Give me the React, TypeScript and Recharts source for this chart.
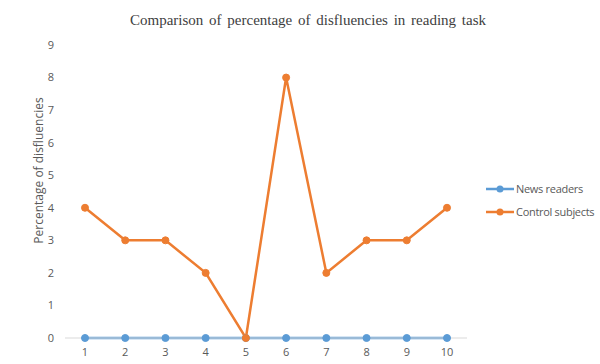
import { Label, Legend, Line, LineChart, XAxis, YAxis } from "recharts";

const subjects = ["1", "2", "3", "4", "5", "6", "7", "8", "9", "10"];
const newsReaders = [0, 0, 0, 0, 0, 0, 0, 0, 0, 0];
const controlSubjects = [4, 3, 3, 2, 0, 8, 2, 3, 3, 4];
const yTicks = [0, 1, 2, 3, 4, 5, 6, 7, 8, 9];
const seriesNames = ["News readers", "Control subjects"];

const data = subjects.map((s, i) => ({
  subject: s,
  news: newsReaders[i],
  control: controlSubjects[i],
}));

const gray = "#595959";

function LegendContent({ payload }: any) {
  const items = [...(payload || [])].sort(
    (a: any, b: any) => seriesNames.indexOf(a.value) - seriesNames.indexOf(b.value)
  );
  return (
    <div style={{ fontFamily: "Open Sans, sans-serif", fontSize: 11, color: gray }}>
      {items.map((p: any) => (
        <div key={p.value} style={{ display: "flex", alignItems: "center", height: 23 }}>
          <svg width={28} height={10} style={{ marginRight: 2 }}>
            <line x1={0} y1={5} x2={28} y2={5} stroke={p.color} strokeWidth={2.5} />
            <circle cx={14} cy={5} r={3.5} fill={p.color} />
          </svg>
          <span style={{ letterSpacing: -0.3 }}>{p.value}</span>
        </div>
      ))}
    </div>
  );
}

export default function App() {
  return (
    <div style={{ position: "absolute", left: 0, top: 0, width: 600, height: 364, background: "#fff" }}>
      <div
        style={{
          position: "absolute",
          top: 12,
          left: 108,
          width: 400,
          textAlign: "center",
          whiteSpace: "nowrap",
          fontFamily: "Liberation Serif, serif",
          fontSize: 15,
          color: "#404040",
          wordSpacing: 2,
        }}
      >
        Comparison of percentage of disfluencies in reading task
      </div>
      <LineChart width={600} height={364} data={data} margin={{ top: 45, right: 19, bottom: 0, left: 25 }}>
        <XAxis
          dataKey="subject"
          padding={{ left: 20, right: 20 }}
          axisLine={{ stroke: "#d9d9d9", strokeWidth: 1 }}
          tickLine={false}
          tick={{ fill: gray, fontSize: 11, fontFamily: "Open Sans, sans-serif" }}
          tickMargin={4}
          height={26}
        />
        <YAxis
          domain={[0, 9]}
          ticks={yTicks}
          interval={0}
          width={40}
          axisLine={false}
          tickLine={false}
          tickSize={0}
          tickMargin={11}
          tick={{ fill: gray, fontSize: 11, fontFamily: "Open Sans, sans-serif" }}
        >
          <Label
            content={({ viewBox }: any) => {
              const x = viewBox.x + 13;
              const y = viewBox.y + viewBox.height / 2 - 21;
              return (
                <text
                  x={x}
                  y={y}
                  transform={`rotate(-90, ${x}, ${y})`}
                  textAnchor="middle"
                  dominantBaseline="central"
                  fill={gray}
                  fontSize={12}
                  fontFamily="Open Sans, sans-serif"
                >
                  Percentage of disfluencies
                </text>
              );
            }}
          />
        </YAxis>
        <Legend
          layout="vertical"
          align="right"
          verticalAlign="middle"
          content={<LegendContent />}
          wrapperStyle={{ right: 0, width: 114, top: 177 }}
        />
        <Line
          name="News readers"
          dataKey="news"
          stroke="#5b9bd5"
          strokeWidth={2.5}
          dot={{ r: 3.5, fill: "#5b9bd5", stroke: "#5b9bd5", strokeWidth: 1 }}
          isAnimationActive={false}
        />
        <Line
          name="Control subjects"
          dataKey="control"
          stroke="#ed7d31"
          strokeWidth={2.5}
          dot={{ r: 3.5, fill: "#ed7d31", stroke: "#ed7d31", strokeWidth: 1 }}
          isAnimationActive={false}
        />
      </LineChart>
    </div>
  );
}
